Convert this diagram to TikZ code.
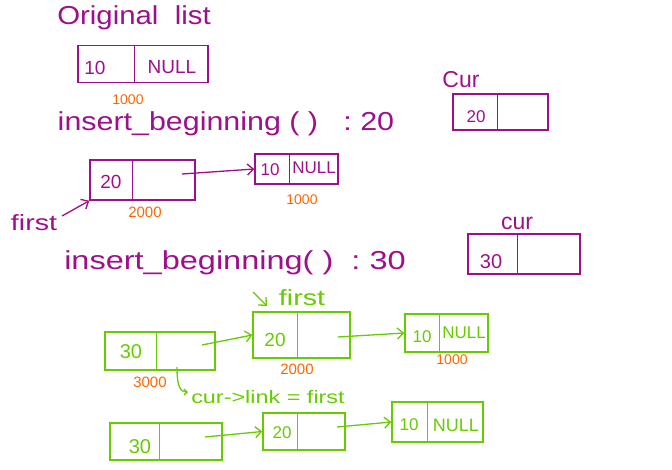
\documentclass[tikz,border=0pt]{standalone}
\usepackage{fontspec}
\usepackage{graphicx}
\setmainfont{Liberation Sans}
\usetikzlibrary{arrows.meta}
\definecolor{mag}{RGB}{158,16,138}
\definecolor{grn}{RGB}{102,204,0}
\definecolor{org}{RGB}{255,102,0}
\newcommand{\hsc}[2]{\scalebox{#1}[1]{#2}}
\tikzset{
  mbox/.style={draw=mag, line width=1.5pt, rectangle, inner sep=0pt},
  gbox/.style={draw=grn, line width=1.5pt, rectangle, inner sep=0pt},
  mline/.style={draw=mag, line width=1.5pt},
  gline/.style={draw=grn, line width=1.5pt},
  mtext/.style={text=mag, inner sep=0pt, font=\fontsize{17}{19}\selectfont},
  gtext/.style={text=grn, inner sep=0pt, font=\fontsize{17}{19}\selectfont},
  mhead/.style={text=mag, inner sep=0pt, font=\fontsize{26}{30}\selectfont},
  ghead/.style={text=grn, inner sep=0pt, font=\fontsize{20}{22}\selectfont},
  otext/.style={text=org, inner sep=0pt, font=\fontsize{14}{16}\selectfont},
  marr/.style={draw=mag, line width=1.3pt, -{Straight Barb[length=6pt,width=11pt]}},
  garr/.style={draw=grn, line width=1.3pt, -{Straight Barb[length=6pt,width=11pt]}},
}
\begin{document}
\begin{tikzpicture}[x=1pt,y=-1pt]
\useasboundingbox (0,0) rectangle (672,469);
% ---------- original list
\node[mhead] (t1) at (134,18) {\hsc{1.13}{Original\ \ list}};
\node[mbox, minimum width=130pt, minimum height=37pt] (b1) at (143,64) {};
\draw[mline] ([xshift=57pt]b1.north west) -- ([xshift=57pt]b1.south west);
\node[mtext, font=\fontsize{19}{21}\selectfont] (b1v) at (95,68) {10};
\node[mtext, font=\fontsize{19}{21}\selectfont] (b1n) at (172,67) {NULL};
\node[otext] (a1) at (128,100) {1000};
% ---------- insert 20
\node[mhead] (t2) at (226,124) {\hsc{1.17}{insert\_beginning ( )\ \ \ :\ 20}};
\node[mbox, minimum width=105pt, minimum height=40pt] (b2) at (142.5,180) {};
\draw[mline] ([xshift=43pt]b2.north west) -- ([xshift=43pt]b2.south west);
\node[mtext, font=\fontsize{19}{21}\selectfont] (b2v) at (111,182) {20};
\node[mbox, minimum width=83pt, minimum height=30pt] (b3) at (296.5,169) {};
\draw[mline] ([xshift=35pt]b3.north west) -- ([xshift=35pt]b3.south west);
\node[mtext] (b3v) at (270,170) {10};
\node[mtext] (b3n) at (314,168) {NULL};
\coordinate (s2) at (182,174);
\draw[marr] (s2) -- (b3.west);
\node[otext, font=\fontsize{15}{17}\selectfont] (a2) at (145,212) {2000};
\node[otext] (a3) at (302,200) {1000};
\node[mtext, font=\fontsize{22}{24}\selectfont] (f1) at (34,223) {\hsc{1.3}{first}};
\coordinate (f1a) at (62,216);
\draw[marr] (f1a) -- (b2.south west);
% cur 20
\node[mtext, font=\fontsize{23}{25}\selectfont] (c1) at (461,80) {Cur};
\node[mbox, minimum width=95pt, minimum height=36pt] (b4) at (500.5,112) {};
\draw[mline] ([xshift=45pt]b4.north west) -- ([xshift=45pt]b4.south west);
\node[mtext] (b4v) at (476,117) {20};
% ---------- insert 30
\node[mhead] (t3) at (235,263) {\hsc{1.25}{insert\_beginning( )\ \ :\ 30}};
\node[mtext, font=\fontsize{23}{25}\selectfont] (c2) at (517,223) {cur};
\node[mbox, minimum width=112pt, minimum height=40pt] (b5) at (524,254) {};
\draw[mline] ([xshift=50pt]b5.north west) -- ([xshift=50pt]b5.south west);
\node[mtext, font=\fontsize{20}{22}\selectfont] (b5v) at (491,262) {30};
% ---------- green first row
\node[ghead, font=\fontsize{22}{24}\selectfont] (g1) at (302,298) {\hsc{1.3}{first}};
\coordinate (g1a) at (253,292);
\coordinate (g1b) at (267,306);
\draw[garr] (g1a) -- (g1b);
\node[gbox, minimum width=110pt, minimum height=38pt] (A) at (160,351) {};
\draw[gline] ([xshift=52pt]A.north west) -- ([xshift=52pt]A.south west);
\node[gtext, font=\fontsize{20}{22}\selectfont] (Av) at (131,352) {30};
\node[gbox, minimum width=97pt, minimum height=46pt] (B) at (301.5,335) {};
\draw[gline] ([xshift=45pt]B.north west) -- ([xshift=45pt]B.south west);
\node[gtext, font=\fontsize{19}{21}\selectfont] (Bv) at (275,340) {20};
\node[gbox, minimum width=83pt, minimum height=38pt] (C) at (446.5,333) {};
\draw[gline] ([xshift=35pt]C.north west) -- ([xshift=35pt]C.south west);
\node[gtext] (Cv) at (422,337) {10};
\node[gtext] (Cn) at (464,333) {NULL};
\coordinate (sA) at (202,345);
\coordinate (sB) at (338,337);
\draw[garr] (sA) -- (B.west);
\draw[garr] (sB) -- (C.west);
\node[otext, font=\fontsize{15}{17}\selectfont] (a4) at (297,369) {2000};
\node[otext] (a5) at (452,360) {1000};
\node[otext, font=\fontsize{15}{17}\selectfont] (a6) at (150,382) {3000};
% hook
\coordinate (h0) at (177,367);
\coordinate (h1) at (188,392);
\draw[garr, -{Straight Barb[length=3pt,width=6pt]}] (h0) .. controls (177,386) and (180,392) .. (h1);
\node[ghead, font=\fontsize{18}{20}\selectfont] (g2) at (268,397) {\hsc{1.3}{cur->link\ =\ first}};
% ---------- green second row
\node[gbox, minimum width=112pt, minimum height=37pt] (D) at (166,441.5) {};
\draw[gline] ([xshift=50pt]D.north west) -- ([xshift=50pt]D.south west);
\node[gtext, font=\fontsize{20}{22}\selectfont] (Dv) at (140,447) {30};
\node[gbox, minimum width=82pt, minimum height=37pt] (E) at (304,431.5) {};
\draw[gline] ([xshift=35pt]E.north west) -- ([xshift=35pt]E.south west);
\node[gtext] (Ev) at (282,433) {20};
\node[gbox, minimum width=91pt, minimum height=40pt] (F) at (437.5,422) {};
\draw[gline] ([xshift=36pt]F.north west) -- ([xshift=36pt]F.south west);
\node[gtext] (Fv) at (409,425) {10};
\node[gtext, font=\fontsize{18}{20}\selectfont] (Fn) at (456,425) {NULL};
\coordinate (sD) at (205,437);
\coordinate (sE) at (337,427);
\draw[garr] (sD) -- (E.west);
\draw[garr] (sE) -- (F.west);
\end{tikzpicture}
\end{document}
